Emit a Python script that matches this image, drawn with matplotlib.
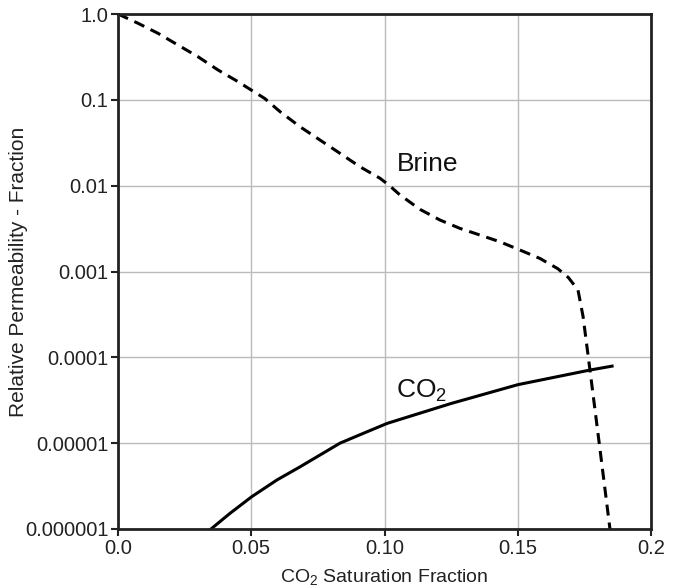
import matplotlib
matplotlib.use('Agg')
from matplotlib import pyplot as plt

# data
brine_sat = [0.0, 0.0075, 0.0150, 0.0225, 0.0300, 0.0375, 0.0450, 0.0500, 0.0550,
             0.0608, 0.0683, 0.0758, 0.0833, 0.0908, 0.0983, 0.1014, 0.1058,
             0.1133, 0.1208, 0.1283, 0.1358, 0.1433, 0.1508, 0.1583, 0.1650,
             0.1690, 0.1726, 0.1745, 0.1771, 0.1809, 0.1846]
brine_kr = [1.0, 0.78, 0.596, 0.435, 0.318, 0.223, 0.163, 0.130, 0.104,
            0.0728, 0.0486, 0.034, 0.0238, 0.0166, 0.0122, 0.0103, 0.0078,
            0.0053, 0.00398, 0.00318, 0.00266, 0.00222, 0.00178, 0.00142, 0.00108,
            0.00085, 0.00061, 0.0003, 7.1e-5, 8.3e-6, 1e-6]

co2_sat = [0.0349, 0.0420, 0.0502, 0.0596, 0.0683, 0.0758, 0.0833, 0.0920,
           0.101, 0.125, 0.150, 0.177, 0.1854]
co2_kr = [1e-6, 1.52e-6, 2.38e-6, 3.72e-6, 5.3e-6, 7.28e-6, 1.0e-5, 1.3e-5,
          1.7e-5, 2.9e-5, 4.8e-5, 7.1e-5, 7.9e-5]

x_ticks = [0.0, 0.05, 0.10, 0.15, 0.2]
x_labels = ['0.0', '0.05', '0.10', '0.15', '0.2']
y_ticks = [1.0, 0.1, 0.01, 0.001, 0.0001, 0.00001, 0.000001]
y_labels = ['1.0', '0.1', '0.01', '0.001', '0.0001', '0.00001', '0.000001']

plt.rcParams['font.family'] = ['Liberation Sans', 'DejaVu Sans']
plt.rcParams['mathtext.fontset'] = 'custom'
plt.rcParams['mathtext.rm'] = 'Liberation Sans'
plt.rcParams['mathtext.it'] = 'Liberation Sans'

fig = plt.figure(figsize=(6.81, 5.87), dpi=100)
ax = fig.add_axes([118 / 681, 1 - 529 / 587, 533 / 681, 515 / 587])

ax.plot(brine_sat, brine_kr, color='black', lw=2.2, linestyle=(0, (3.6, 2.3)))
ax.plot(co2_sat, co2_kr, color='black', lw=2.2)

ax.set_yscale('log')
ax.set_xlim(0, 0.2)
ax.set_ylim(1e-6, 1.0)
ax.set_xticks(x_ticks)
ax.set_xticklabels(x_labels)
ax.set_yticks(y_ticks)
ax.set_yticklabels(y_labels)
ax.minorticks_off()
ax.tick_params(axis='both', labelsize=14.5, color='#222222', length=5, width=1.5,
               labelcolor='#222222', pad=2)
ax.grid(True, color='#bbbbbb', lw=1)
for s in ax.spines.values():
    s.set_linewidth(2)
    s.set_color('#222222')

ax.text(0.1045, 0.015, 'Brine', fontsize=19, color='#111111')
ax.text(0.1045, 3.4e-5, 'CO$_2$', fontsize=19, color='#111111')

ax.set_xlabel('CO$_2$ Saturation Fraction', fontsize=14, color='#222222', labelpad=7)
ax.set_ylabel('Relative Permeability - Fraction', fontsize=15, color='#222222')
ax.yaxis.set_label_coords(-0.168, 0.5)

fig.savefig('out.png', dpi=100)
